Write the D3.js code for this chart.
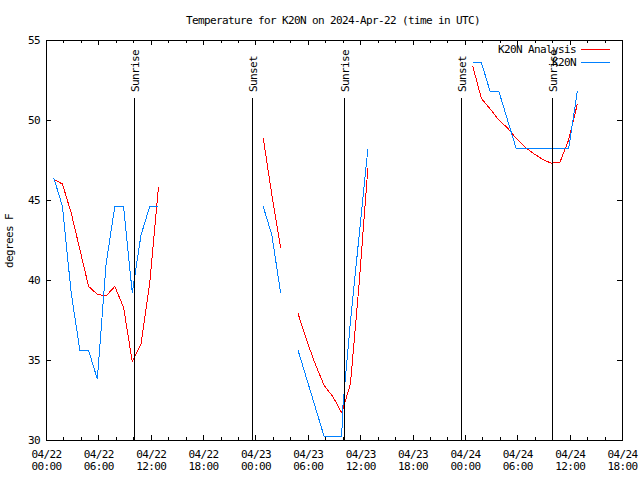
<!DOCTYPE html>
<html><head><meta charset="utf-8">
<script src="https://cdn.jsdelivr.net/npm/d3@7"></script>
<style>
body{margin:0;background:#fff}
svg{display:block}
text{font-family:"DejaVu Sans Mono",monospace;font-size:11px;letter-spacing:-0.62px;fill:#000}
</style>
</head><body><svg id="c" width="640" height="480" shape-rendering="crispEdges"></svg>
<script>
// ---------- data ----------
const titleText = "Temperature for K20N on 2024-Apr-22 (time in UTC)";
const yLabel = "degrees F";
const xDomain = ["2024-04-22T00:00Z", "2024-04-24T18:00Z"];
const yDomain = [30, 55];
const yTickValues = [30, 35, 40, 45, 50, 55];
const seriesNames = ["K20N Analysis", "K20N"];
const seriesColors = ["#ff0000", "#0080ff"];

const analysisTimes = [
  "2024-04-22T00:53Z","2024-04-22T01:53Z","2024-04-22T02:53Z","2024-04-22T03:53Z","2024-04-22T04:53Z",
  "2024-04-22T05:53Z","2024-04-22T06:53Z","2024-04-22T07:53Z","2024-04-22T08:53Z","2024-04-22T09:53Z",
  "2024-04-22T10:53Z","2024-04-22T11:53Z","2024-04-22T12:53Z",
  "2024-04-23T00:53Z","2024-04-23T01:53Z","2024-04-23T02:53Z",
  "2024-04-23T04:53Z","2024-04-23T05:53Z","2024-04-23T06:53Z","2024-04-23T07:53Z","2024-04-23T08:53Z",
  "2024-04-23T09:53Z","2024-04-23T10:53Z","2024-04-23T11:53Z","2024-04-23T12:53Z",
  "2024-04-24T00:53Z","2024-04-24T01:53Z","2024-04-24T02:53Z","2024-04-24T03:53Z","2024-04-24T04:53Z",
  "2024-04-24T05:53Z","2024-04-24T06:53Z","2024-04-24T07:53Z","2024-04-24T08:53Z","2024-04-24T09:53Z",
  "2024-04-24T10:53Z","2024-04-24T11:53Z","2024-04-24T12:53Z"
];
const analysisTemps = [
  46.3, 46.0, 44.2, 41.9, 39.6, 39.1, 39.0, 39.6, 38.3, 34.9, 36.0, 39.8, 45.8,
  48.9, 45.3, 42.0,
  37.9, 36.2, 34.7, 33.4, 32.7, 31.7, 33.5, 39.8, 47.0,
  53.4, 51.35, 50.7, 50.0, 49.5, 48.85, 48.3, 47.9, 47.55, 47.3, 47.35, 48.75, 51.0
];

const obsTimes = [
  "2024-04-22T00:53Z","2024-04-22T01:53Z","2024-04-22T02:53Z","2024-04-22T03:53Z","2024-04-22T04:53Z",
  "2024-04-22T05:53Z","2024-04-22T06:53Z","2024-04-22T07:53Z","2024-04-22T08:53Z","2024-04-22T09:53Z",
  "2024-04-22T10:53Z","2024-04-22T11:53Z","2024-04-22T12:53Z",
  "2024-04-23T00:53Z","2024-04-23T01:53Z","2024-04-23T02:53Z",
  "2024-04-23T04:53Z","2024-04-23T05:53Z","2024-04-23T06:53Z","2024-04-23T07:53Z","2024-04-23T08:53Z",
  "2024-04-23T09:53Z","2024-04-23T10:00Z","2024-04-23T10:53Z","2024-04-23T11:53Z","2024-04-23T12:53Z",
  "2024-04-24T00:53Z","2024-04-24T01:53Z","2024-04-24T02:53Z","2024-04-24T03:53Z","2024-04-24T04:53Z",
  "2024-04-24T05:53Z","2024-04-24T06:53Z","2024-04-24T07:53Z","2024-04-24T08:53Z","2024-04-24T09:53Z",
  "2024-04-24T10:53Z","2024-04-24T11:53Z","2024-04-24T12:53Z"
];
const obsTemps = [
  46.4, 44.6, 39.2, 35.6, 35.6, 33.8, 41.0, 44.6, 44.6, 39.2, 42.8, 44.6, 44.6,
  44.6, 42.8, 39.2,
  35.6, 33.8, 32.0, 30.2, 30.2, 30.2, 32.0, 37.4, 42.8, 48.2,
  53.6, 53.6, 51.8, 51.8, 50.0, 48.2, 48.2, 48.2, 48.2, 48.2, 48.2, 48.2, 51.8
];

const sunLabels = ["Sunrise", "Sunset", "Sunrise", "Sunset", "Sunrise"];
const sunTimes = ["2024-04-22T10:09Z", "2024-04-22T23:41Z", "2024-04-23T10:10Z", "2024-04-23T23:39Z", "2024-04-24T10:02Z"];

// ---------- chart ----------
const svg = d3.select("#c");
const L = 46, R = 622, T = 40, B = 440;
const x = d3.scaleUtc().domain(xDomain.map(s => new Date(s))).range([L, R]);
const y = d3.scaleLinear().domain(yDomain).range([B, T]);

svg.append("rect").attr("width", 640).attr("height", 480).attr("fill", "#fff");

svg.append("text").attr("x", 333).attr("y", 24).attr("text-anchor", "middle").text(titleText);

const majorTicks = d3.utcHour.every(6).range(x.domain()[0], new Date(+x.domain()[1] + 1));
const minorTicks = d3.utcHour.every(2).range(x.domain()[0], new Date(+x.domain()[1] + 1));
const fmt = d3.utcFormat("%m/%d|%H:%M");

function clean(g){ g.select(".domain").remove(); g.selectAll("line").attr("stroke", "#000"); }

// bottom axis
const gb = svg.append("g").attr("transform", `translate(0,${B})`)
  .call(d3.axisBottom(x).tickValues(majorTicks).tickSizeInner(-5).tickSizeOuter(0).tickPadding(10).tickFormat(fmt))
  .call(clean);
gb.selectAll(".tick text").each(function(d){
  const parts = fmt(d).split("|");
  const t = d3.select(this).text(null).attr("dy", null);
  t.append("tspan").attr("x", 0).attr("dy", "0.71em").text(parts[0]);
  t.append("tspan").attr("x", 0).attr("dy", "12.5px").text(parts[1]);
});
svg.append("g").attr("transform", `translate(0,${B})`)
  .call(d3.axisBottom(x).tickValues(minorTicks).tickSizeInner(-3).tickSizeOuter(0).tickFormat(""))
  .call(clean);
// top axis
svg.append("g").attr("transform", `translate(0,${T})`)
  .call(d3.axisTop(x).tickValues(majorTicks).tickSizeInner(-5).tickSizeOuter(0).tickFormat(""))
  .call(clean);
svg.append("g").attr("transform", `translate(0,${T})`)
  .call(d3.axisTop(x).tickValues(minorTicks).tickSizeInner(-3).tickSizeOuter(0).tickFormat(""))
  .call(clean);
// left axis
svg.append("g").attr("transform", `translate(${L},0)`)
  .call(d3.axisLeft(y).tickValues(yTickValues).tickSizeInner(-5).tickSizeOuter(0).tickPadding(6).tickFormat(d3.format("d")))
  .call(clean);
// right axis
svg.append("g").attr("transform", `translate(${R},0)`)
  .call(d3.axisRight(y).tickValues(yTickValues).tickSizeInner(-5).tickSizeOuter(0).tickFormat(""))
  .call(clean);

// frame
svg.append("rect").attr("x", L).attr("y", T).attr("width", R - L).attr("height", B - T)
  .attr("fill", "none").attr("stroke", "#000");

// y label
svg.append("text").attr("transform", `translate(13,241) rotate(-90)`).attr("text-anchor", "middle").text(yLabel);

// series
function segments(times, temps){
  const pts = times.map((s, i) => ({t: new Date(s), v: temps[i]}));
  const segs = []; let cur = [];
  pts.forEach((p, i) => {
    if (i > 0 && (p.t - pts[i-1].t) > 90 * 60000) { segs.push(cur); cur = []; }
    cur.push(p);
  });
  segs.push(cur);
  return segs;
}
const line = d3.line().x(d => x(d.t)).y(d => y(d.v));
const allSeries = [[analysisTimes, analysisTemps], [obsTimes, obsTemps]];
allSeries.forEach((s, i) => {
  svg.append("g").selectAll("path").data(segments(s[0], s[1])).join("path")
    .attr("d", line).attr("fill", "none").attr("stroke", seriesColors[i]).attr("stroke-width", 1);
});

// sunrise / sunset markers
sunTimes.forEach((s, i) => {
  const lx = Math.floor(x(new Date(s))) + 0.5;
  svg.append("line").attr("x1", lx).attr("x2", lx).attr("y1", 98).attr("y2", B)
    .attr("stroke", "#000").attr("stroke-width", 1);
  svg.append("text").attr("transform", `translate(${lx + 4},92) rotate(-90)`)
    .attr("text-anchor", "start").text(sunLabels[i]);
});

// legend
seriesNames.forEach((n, i) => {
  const ly = 49 + i * 13;
  svg.append("text").attr("x", 576).attr("y", ly + 3.5).attr("text-anchor", "end").text(n);
  svg.append("line").attr("x1", 581).attr("x2", 610).attr("y1", ly + 0.5).attr("y2", ly + 0.5)
    .attr("stroke", seriesColors[i]).attr("stroke-width", 1);
});
</script></body></html>
